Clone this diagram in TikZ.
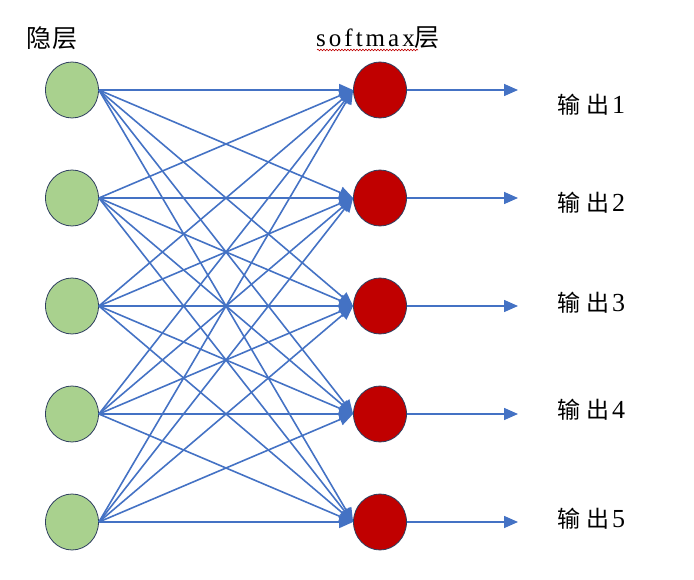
\documentclass[tikz,border=0pt]{standalone}
\usepackage{fontspec}
\usepackage{tikz}
\usetikzlibrary{arrows.meta,decorations.pathmorphing,shapes.geometric}
\setmainfont{Liberation Serif}
\newfontfamily\cjk{Noto Sans CJK SC}
\definecolor{hidgreen}{HTML}{A9D18E}
\definecolor{outred}{HTML}{C00000}
\definecolor{edgeblue}{HTML}{4472C4}
\definecolor{rimblue}{HTML}{2F3F5F}

\begin{document}
\begin{tikzpicture}[x=1pt, y=-1pt,
    unit/.style={ellipse, draw=rimblue, line width=0.8pt, minimum width=53pt, minimum height=56pt, inner sep=0pt},
    hidden/.style={unit, fill=hidgreen},
    soft/.style={unit, fill=outred},
    link/.style={draw=edgeblue, line width=1.6pt, -{Triangle[length=14pt,width=12pt]}},
    title/.style={font=\fontsize{25}{28}\selectfont},
    outlabel/.style={anchor=west, inner sep=0pt, font=\fontsize{23}{26}\selectfont}
]
\useasboundingbox (0,0) rectangle (694,580);

\node[title] (hidtitle) at (52,38) {\cjk 隐\hspace{1pt}层};
\node[title] (softtitle) at (378,38) {\addfontfeature{LetterSpace=12}softmax\cjk 层};
\draw[outred, line width=0.6pt, decorate, decoration={snake, amplitude=0.8pt, segment length=3pt}] (317,50) -- (418,50);

\foreach \i/\y in {1/90, 2/198, 3/306, 4/414, 5/522} {
    \node[hidden] (h\i) at (72,\y) {};
    \node[soft] (s\i) at (380,\y) {};
    \coordinate (o\i) at (518,\y);
}

\foreach \i in {1,...,5}
    \foreach \j in {1,...,5}
        \draw[link] (h\i.east) -- (s\j.west);

\foreach \i/\y in {1/105, 2/203, 3/303, 4/410, 5/519} {
    \draw[link] (s\i.east) -- (o\i);
    \node[outlabel] (lab\i) at (557,\y) {{\cjk 输\hspace{6pt}出}\hspace{3pt}{\fontsize{26}{28}\selectfont\i}};
}

\end{tikzpicture}
\end{document}
